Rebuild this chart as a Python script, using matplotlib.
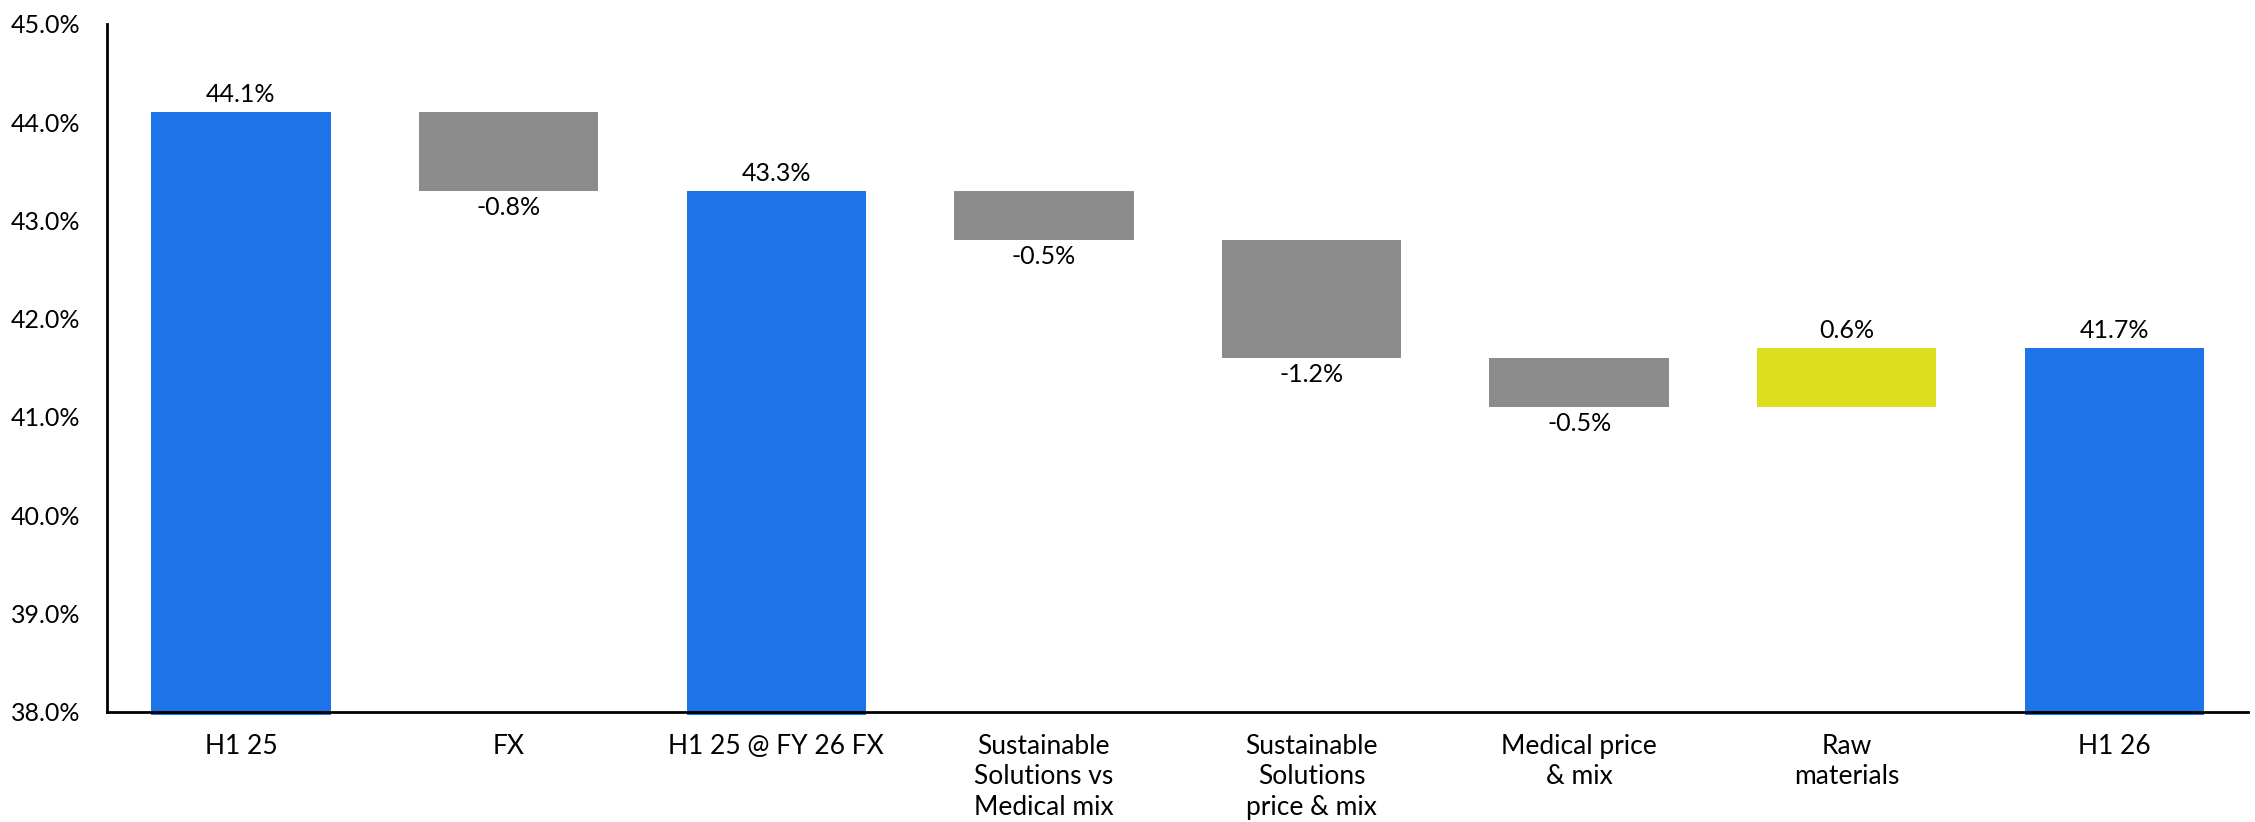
import matplotlib
matplotlib.use("Agg")
import matplotlib.pyplot as plt
from matplotlib.ticker import FuncFormatter, MultipleLocator

plt.rcParams['font.family'] = ['Lato', 'DejaVu Sans']

# Gross margin bridge (percentage points)
categories = ["H1 25", "FX", "H1 25 @ FY 26 FX", "Sustainable\nSolutions vs\nMedical mix",
              "Sustainable\nSolutions\nprice & mix", "Medical price\n& mix", "Raw\nmaterials", "H1 26"]
values = [44.1, -0.8, 43.3, -0.5, -1.2, -0.5, 0.6, 41.7]
is_total = [True, False, True, False, False, False, False, True]

BLUE = "#1C74E8"
GREY = "#8C8C8C"
YELLOW = "#DEDE20"
Y_MIN, Y_MAX = 38.0, 45.0
FS = 18

fig = plt.figure(figsize=(22.55, 8.22), dpi=100)
ax = fig.add_axes([0.0475, 0.134, 0.9495, 0.837])

running = 0.0
for i, (v, tot) in enumerate(zip(values, is_total)):
    if tot:
        bottom, height = Y_MIN - 0.03, v - Y_MIN + 0.03
        running = v
        ax.bar(i, height, bottom=bottom, width=0.67, color=BLUE, clip_on=False, zorder=1)
        ax.text(i, v + 0.06, f"{v:.1f}%", ha="center", va="bottom", fontsize=FS)
    else:
        start = running
        running = start + v
        color = GREY if v < 0 else YELLOW
        ax.bar(i, v, bottom=start, width=0.67, color=color, zorder=1)
        if v < 0:
            ax.text(i, running - 0.05, f"{v:.1f}%", ha="center", va="top", fontsize=FS)
        else:
            ax.text(i, running + 0.06, f"{v:.1f}%", ha="center", va="bottom", fontsize=FS)

ax.set_xlim(-0.5, len(categories) - 0.5)
ax.set_ylim(Y_MIN, Y_MAX)
ax.yaxis.set_major_locator(MultipleLocator(1.0))
ax.yaxis.set_major_formatter(FuncFormatter(lambda y, _: f"{y:.1f}%"))
ax.set_xticks(range(len(categories)))
ax.set_xticklabels(categories, fontsize=FS + 1, linespacing=1.27, va="top")
ax.tick_params(axis="both", length=0)
ax.tick_params(axis="y", pad=19, labelsize=FS)
ax.tick_params(axis="x", pad=16)

for side in ("top", "right"):
    ax.spines[side].set_visible(False)
for side in ("left", "bottom"):
    ax.spines[side].set_linewidth(2)
    ax.spines[side].set_color("black")
    ax.spines[side].set_zorder(3)

fig.savefig("out.png", dpi=100, facecolor="white")
